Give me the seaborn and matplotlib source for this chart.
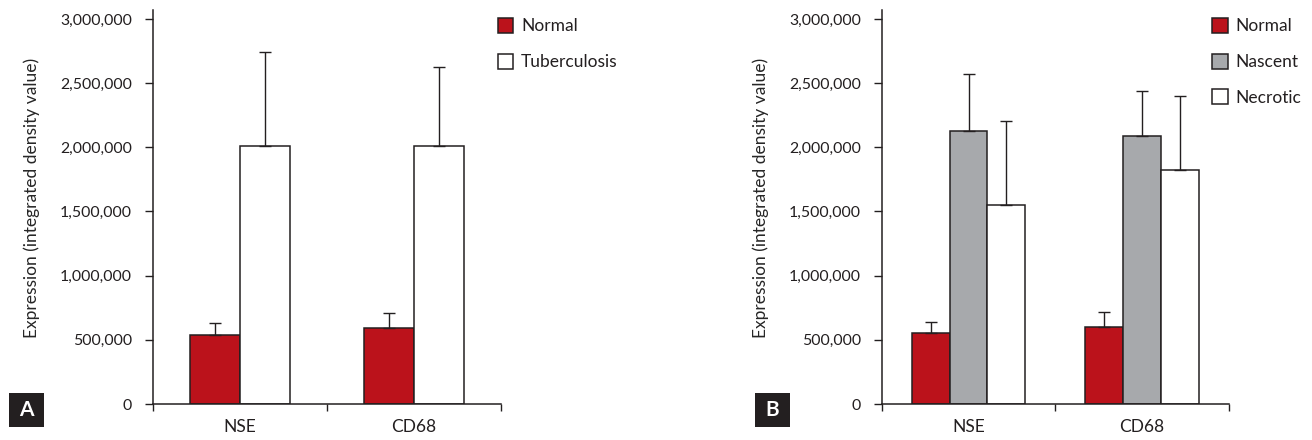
import numpy as np
import pandas as pd
import matplotlib
matplotlib.use("Agg")
import matplotlib.pyplot as plt
import matplotlib.ticker as mticker
from matplotlib.patches import Rectangle
import seaborn as sns

# data
markers = ["NSE", "CD68"]

groups_a = ["Normal", "Tuberculosis"]
normal_a = [537000, 595000]
normal_a_err = [93000, 112000]
tb_a = [2009000, 2009000]
tb_a_err = [737000, 615000]

groups_b = ["Normal", "Nascent", "Necrotic"]
normal_b = [550000, 600000]
normal_b_err = [91000, 114000]
nascent_b = [2131000, 2089000]
nascent_b_err = [441000, 348000]
necrotic_b = [1547000, 1827000]
necrotic_b_err = [656000, 576000]

yticks = [0, 500000, 1000000, 1500000, 2000000, 2500000, 3000000]

RED = "#BB121B"
GREY = "#A7A9AC"
WHITE = "#FFFFFF"
INK = "#231F20"

W, H = 1312, 440

sns.set_style("white")
plt.rcParams["font.family"] = ["Lato", "DejaVu Sans"]
plt.rcParams["font.size"] = 12.5
plt.rcParams["text.color"] = INK


def build_df(groups, values):
    rows = []
    for g, vals in zip(groups, values):
        for m, v in zip(markers, vals):
            rows.append({"marker": m, "group": g, "value": v})
    return pd.DataFrame(rows)


def draw_panel(ax, groups, values, errs, colors, width, legend_xy):
    df = build_df(groups, values)
    sns.barplot(data=df, x="marker", y="value", hue="group",
                order=markers, hue_order=groups,
                palette=dict(zip(groups, colors)), width=width, saturation=1,
                edgecolor=INK, linewidth=1.1, errorbar=None, ax=ax)

    # upper-only error bars on top of each bar
    for cont, err in zip(ax.containers, errs):
        xs = [p.get_x() + p.get_width() / 2 for p in cont.patches]
        ys = [p.get_height() for p in cont.patches]
        ax.errorbar(xs, ys, yerr=[np.zeros(len(err)), err], fmt="none",
                    ecolor=INK, elinewidth=1.0, capsize=4, capthick=1.0,
                    zorder=1)

    ax.set_xlim(-0.5, 1.5)
    ax.set_ylim(0, 3070000)
    ax.set_yticks(yticks)
    ax.yaxis.set_major_formatter(mticker.FuncFormatter(lambda v, p: f"{int(v):,}"))
    ax.set_xticks([-0.5, 0.5, 1.5], minor=True)
    ax.tick_params(axis="x", which="major", length=0, pad=11, labelsize=12.5, colors=INK)
    ax.tick_params(axis="x", which="minor", length=5, width=1.0, direction="out", color=INK, bottom=True)
    ax.tick_params(axis="y", length=6, width=1.0, direction="out", pad=9, labelsize=11.4,
                   colors=INK, left=True)
    ax.set_xlabel("")
    ax.set_ylabel("Expression (integrated density value)", fontsize=12.5)
    ax.yaxis.set_label_coords(-0.3236, 0.524)
    sns.despine(ax=ax)
    for s in ["left", "bottom"]:
        ax.spines[s].set_color(INK)
        ax.spines[s].set_linewidth(1.1)

    handles, labels = ax.get_legend_handles_labels()
    ax.legend_.remove()
    for hnd in handles:
        hnd.set_edgecolor(INK)
        hnd.set_linewidth(1.1)
    ax.legend(handles, labels, loc="upper left", bbox_to_anchor=legend_xy,
              bbox_transform=ax.figure.transFigure, frameon=False,
              borderpad=0, borderaxespad=0, handlelength=0.9, handleheight=0.95,
              handletextpad=0.45, labelspacing=1.11, fontsize=12.5)


def panel_letter(fig, x, y, letter):
    fig.patches.append(Rectangle((x / W, 1 - (y + 34) / H), 35 / W, 34 / H,
                                 transform=fig.transFigure, facecolor=INK,
                                 edgecolor="none"))
    fig.text((x + 17.5) / W, 1 - (y + 17) / H, letter, color="white",
             ha="center", va="center", fontsize=15, fontweight="bold")


fig = plt.figure(figsize=(W / 100, H / 100), dpi=100)
ax_a = fig.add_axes([153 / W, 36 / H, 348 / W, 394 / H])
ax_b = fig.add_axes([881.7 / W, 36 / H, 347.3 / W, 394 / H])

draw_panel(ax_a, groups_a, [normal_a, tb_a], [normal_a_err, tb_a_err],
           [RED, WHITE], 0.571, (497.5 / W, 1 - 18 / H))
draw_panel(ax_b, groups_b, [normal_b, nascent_b, necrotic_b],
           [normal_b_err, nascent_b_err, necrotic_b_err],
           [RED, GREY, WHITE], 0.654, (1212 / W, 1 - 18 / H))

panel_letter(fig, 9, 393, "A")
panel_letter(fig, 755, 393, "B")

fig.savefig("out.png", dpi=100)
